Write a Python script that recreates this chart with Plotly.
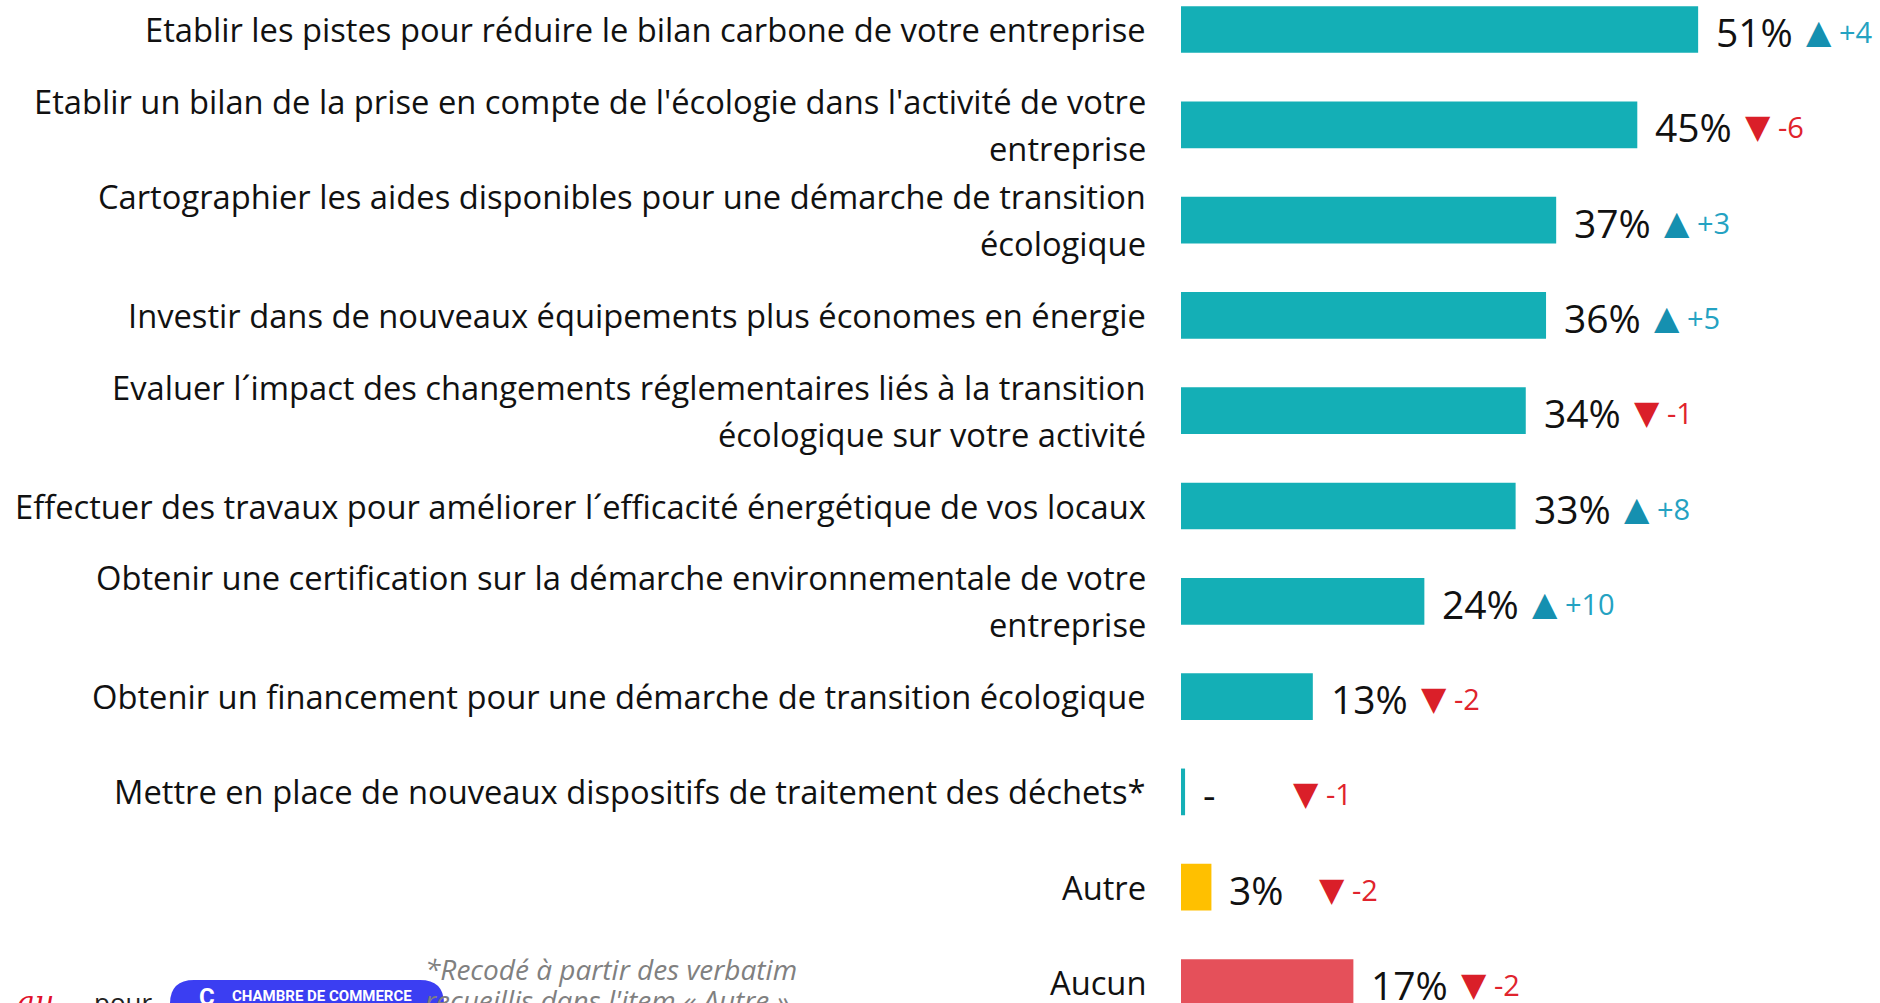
import plotly.graph_objects as go

# ---------------- data ----------------
categories = [
    "Etablir les pistes pour réduire le bilan carbone de votre entreprise",
    "Etablir un bilan de la prise en compte de l'écologie dans l'activité de votre<br>entreprise",
    "Cartographier les aides disponibles pour une démarche de transition<br>écologique",
    "Investir dans de nouveaux équipements plus économes en énergie",
    "Evaluer l´impact des changements réglementaires liés à la transition<br>écologique sur votre activité",
    "Effectuer des travaux pour améliorer l´efficacité énergétique de vos locaux",
    "Obtenir une certification sur la démarche environnementale de votre<br>entreprise",
    "Obtenir un financement pour une démarche de transition écologique",
    "Mettre en place de nouveaux dispositifs de traitement des déchets*",
    "Autre",
    "Aucun",
]
values = [51, 45, 37, 36, 34, 33, 24, 13, 0.4, 3, 17]
value_labels = ["51%", "45%", "37%", "36%", "34%", "33%", "24%", "13%", "-", "3%", "17%"]
deltas = [4, -6, 3, 5, -1, 8, 10, -2, -1, -2, -2]
footnote = "*Recodé à partir des verbatim<br>recueillis dans l'item « Autre »"
logo_text = "CHAMBRE DE COMMERCE"

# ---------------- styles ----------------
TEAL = "#14AFB6"
bar_colors = [TEAL] * 9 + ["#FFC000", "#E5505A"]
UP_TRI, UP_TXT = "#1590B0", "#24A2C2"
DN_TRI, DN_TXT = "#DA1F29", "#E0232D"

W, H = 1880, 1003
L = 1181          # left margin = bar origin in pixels
PX_PER_UNIT = 10.14
ROW = 95.3
FIRST_CENTER = 29.5
LABEL_GAP = 33
LINE_HALF = 23.5

def px_x(p):
    return (p - L) / (W - L)

def px_y(p):
    return 1 - p / H

fig = go.Figure()
fig.add_trace(go.Bar(
    x=values, y=categories, orientation="h",
    marker=dict(color=bar_colors, line=dict(width=0)),
    width=0.49, hoverinfo="skip",
))

ann = []
label_font = dict(family="Open Sans", size=32.7, color="#111111")
for cat, v, lab, d in zip(categories, values, value_labels, deltas):
    # category label lines (right aligned, centred on the bar)
    lines = cat.split("<br>")
    nl = len(lines)
    for i, line in enumerate(lines):
        offs = (i - (nl - 1) / 2) * 2 * LINE_HALF
        ann.append(dict(x=0, y=cat, xref="x", yref="y", text=line, showarrow=False,
                        xanchor="right", yanchor="middle", xshift=-LABEL_GAP, yshift=-offs,
                        font=label_font))
    ann.append(dict(x=v, y=cat, xref="x", yref="y", text=lab, showarrow=False,
                    xanchor="left", yanchor="middle", xshift=16, yshift=-2,
                    font=dict(family="Open Sans", size=39, color="#111111")))
    if d > 0:
        txt = (f'<span style="color:{UP_TRI};font-size:33px;font-family:DejaVu Sans">▲</span>'
               f'<span style="color:{UP_TXT}"> +{d}</span>')
    else:
        txt = (f'<span style="color:{DN_TRI};font-size:33px;font-family:DejaVu Sans">▼</span>'
               f'<span style="color:{DN_TXT}"> {d}</span>')
    ann.append(dict(x=v, y=cat, xref="x", yref="y", text=txt, showarrow=False,
                    xanchor="left", yanchor="middle", xshift=106, yshift=-2,
                    font=dict(family="Open Sans", size=29)))

# footnote (one annotation per line)
for i, line in enumerate(footnote.split("<br>")):
    ann.append(dict(x=px_x(423), y=px_y(969 + 31 * i), xref="paper", yref="paper", text=line,
                    showarrow=False, xanchor="left", yanchor="middle", align="left",
                    font=dict(family="Open Sans", size=28, color="#808080", style="italic")))
# bottom-left partial texts
ann.append(dict(x=px_x(56), y=px_y(982), xref="paper", yref="paper",
                text="<i>au</i>", showarrow=False, xanchor="right", yanchor="top",
                font=dict(family="DejaVu Serif", size=30, color="#E0102A")))
ann.append(dict(x=px_x(92), y=px_y(982), xref="paper", yref="paper",
                text="pour", showarrow=False, xanchor="left", yanchor="top",
                font=dict(family="Open Sans", size=26, color="#222222")))
ann.append(dict(x=px_x(230), y=px_y(996), xref="paper", yref="paper",
                text=f"<b>{logo_text}</b>", showarrow=False, xanchor="left", yanchor="middle",
                font=dict(family="Roboto", size=15, color="white")))
ann.append(dict(x=px_x(207), y=px_y(997), xref="paper", yref="paper",
                text="<b>C</b>", showarrow=False, xanchor="center", yanchor="middle",
                font=dict(family="Roboto", size=24, color="white")))

# pill logo shape
x0, x1, y0, y1, r = 170, 444, 980, 1040, 24
def P(x, y):
    return f"{px_x(x):.5f},{px_y(y):.5f}"
path = (f"M {P(x0 + r, y0)} L {P(x1 - r, y0)} Q {P(x1, y0)} {P(x1, y0 + r)} "
        f"L {P(x1, y1 - r)} Q {P(x1, y1)} {P(x1 - r, y1)} L {P(x0 + r, y1)} "
        f"Q {P(x0, y1)} {P(x0, y1 - r)} L {P(x0, y0 + r)} Q {P(x0, y0)} {P(x0 + r, y0)} Z")
shapes = [dict(type="path", xref="paper", yref="paper", path=path,
               fillcolor="#3B3EF2", line=dict(width=0), layer="above")]

top_idx = -FIRST_CENTER / ROW
bot_idx = (H - FIRST_CENTER) / ROW

fig.update_layout(
    width=W, height=H,
    margin=dict(l=L, r=0, t=0, b=0, pad=0),
    paper_bgcolor="white", plot_bgcolor="white",
    showlegend=False,
    xaxis=dict(range=[0, (W - L) / PX_PER_UNIT], visible=False, fixedrange=True),
    yaxis=dict(type="category", categoryorder="array", categoryarray=categories,
               range=[bot_idx, top_idx], showgrid=False, zeroline=False, showline=False,
               ticks="", showticklabels=False, automargin=False),
    annotations=ann,
    shapes=shapes,
)

fig.write_html("out.html", config={"displayModeBar": False},
               post_script="document.body.style.margin='0';document.body.style.overflow='hidden';")
